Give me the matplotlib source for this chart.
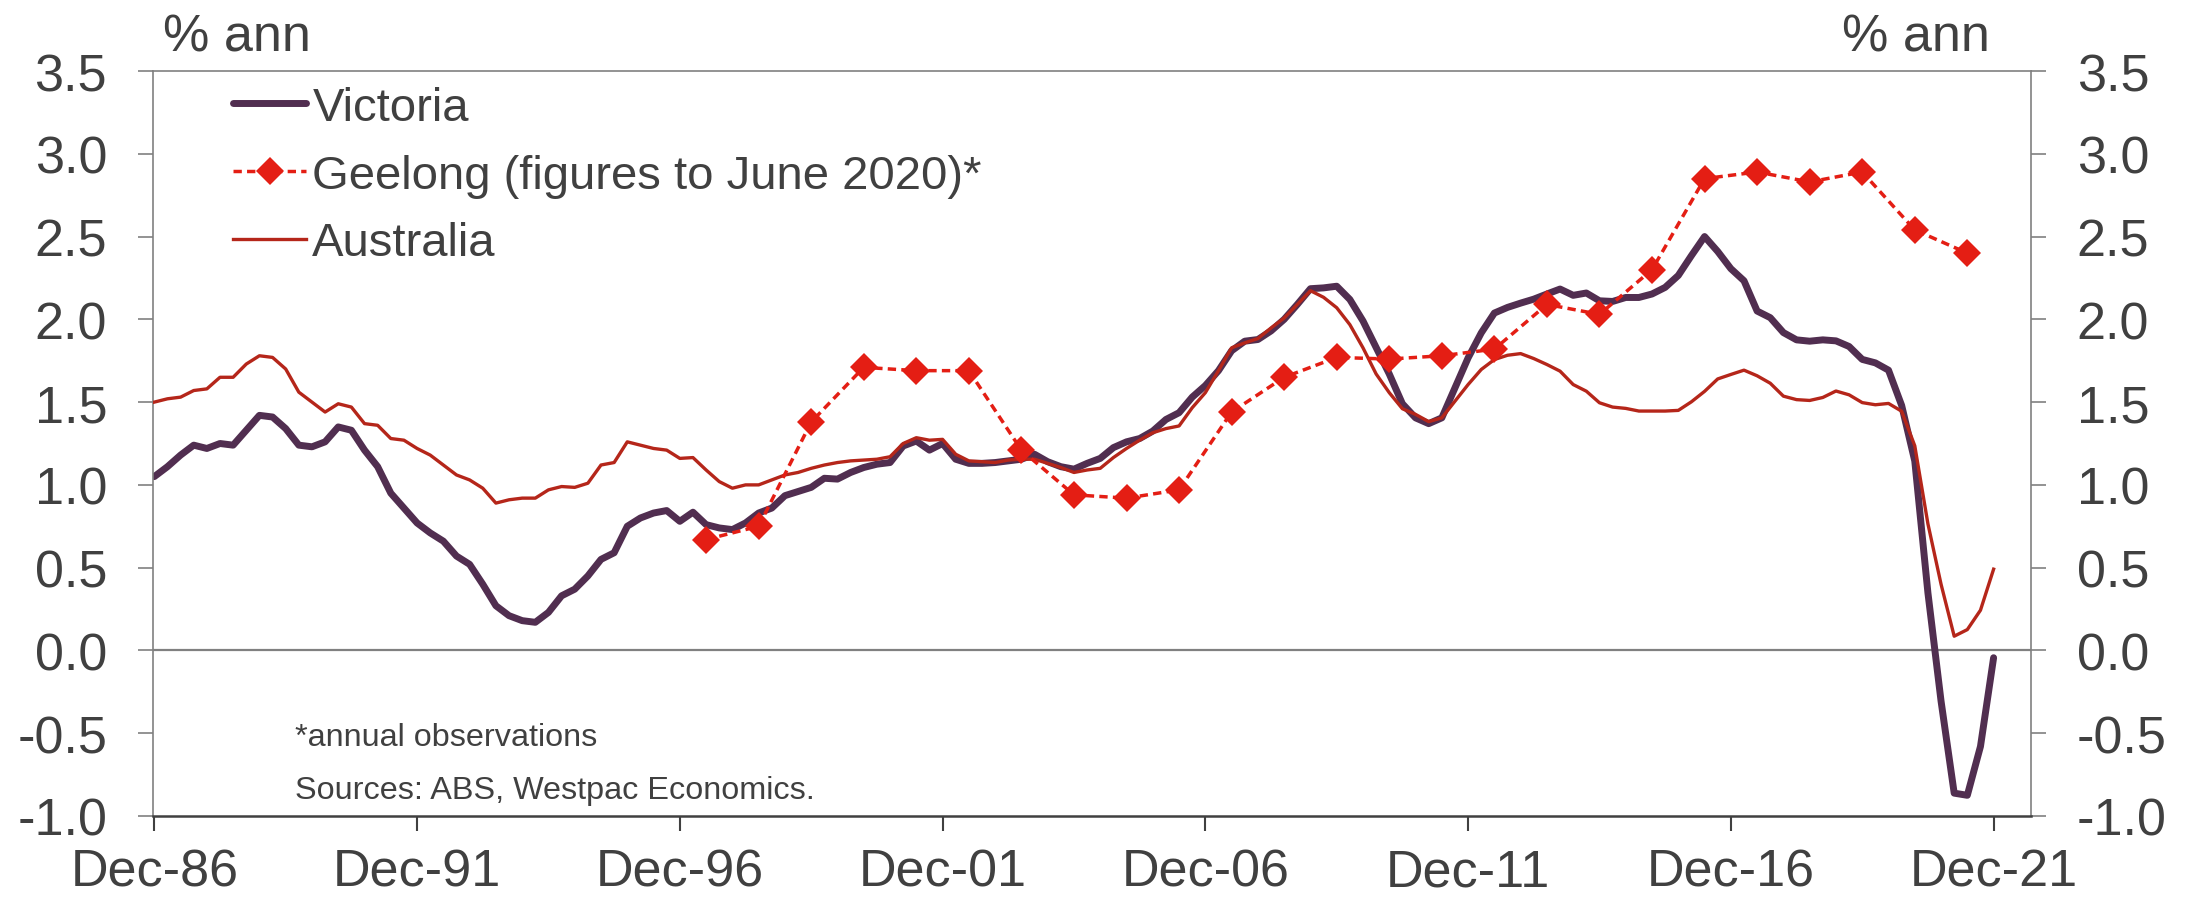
import numpy as np
import matplotlib
matplotlib.use('Agg')
import matplotlib.pyplot as plt

# quarterly population growth, % ann, Dec-86 .. Dec-21
victoria = [
    1.05, 1.11, 1.18, 1.24, 1.22, 1.25, 1.24, 1.33, 1.42, 1.41,
    1.34, 1.24, 1.23, 1.26, 1.35, 1.33, 1.21, 1.11, 0.95, 0.86,
    0.77, 0.71, 0.66, 0.57, 0.52, 0.40, 0.27, 0.21, 0.18, 0.17,
    0.23, 0.33, 0.37, 0.45, 0.55, 0.59, 0.75, 0.80, 0.83, 0.845,
    0.78, 0.835, 0.76, 0.74, 0.73, 0.77, 0.83, 0.86, 0.935, 0.96,
    0.985, 1.04, 1.035, 1.075, 1.105, 1.125, 1.135, 1.235, 1.265, 1.21,
    1.25, 1.155, 1.13, 1.13, 1.135, 1.145, 1.155, 1.185, 1.14, 1.11,
    1.095, 1.13, 1.16, 1.225, 1.26, 1.28, 1.325, 1.395, 1.436, 1.53,
    1.60, 1.69, 1.81, 1.868, 1.878, 1.93, 2.00, 2.09, 2.185, 2.19,
    2.20, 2.12, 1.99, 1.83, 1.67, 1.49, 1.405, 1.37, 1.405, 1.586,
    1.767, 1.918, 2.038, 2.072, 2.098, 2.122, 2.153, 2.183, 2.145, 2.159,
    2.112, 2.108, 2.132, 2.132, 2.153, 2.193, 2.265, 2.385, 2.50, 2.41,
    2.306, 2.233, 2.05, 2.01, 1.92, 1.876, 1.868, 1.876, 1.87, 1.836,
    1.758, 1.737, 1.693, 1.48, 1.144, 0.348, -0.306, -0.862, -0.875, -0.58,
    -0.044,
]

australia = [
    1.50, 1.52, 1.53, 1.57, 1.58, 1.65, 1.65, 1.73, 1.78, 1.77,
    1.70, 1.56, 1.50, 1.44, 1.49, 1.47, 1.37, 1.36, 1.28, 1.27,
    1.22, 1.18, 1.12, 1.06, 1.03, 0.98, 0.89, 0.91, 0.92, 0.92,
    0.97, 0.99, 0.985, 1.01, 1.12, 1.135, 1.26, 1.24, 1.22, 1.21,
    1.16, 1.165, 1.09, 1.02, 0.98, 1.00, 1.00, 1.03, 1.06, 1.075,
    1.10, 1.12, 1.135, 1.145, 1.15, 1.155, 1.17, 1.25, 1.285, 1.27,
    1.275, 1.185, 1.145, 1.14, 1.135, 1.15, 1.155, 1.155, 1.13, 1.105,
    1.075, 1.09, 1.10, 1.165, 1.22, 1.27, 1.315, 1.34, 1.356, 1.466,
    1.557, 1.69, 1.828, 1.858, 1.884, 1.948, 2.008, 2.09, 2.173, 2.133,
    2.07, 1.968, 1.828, 1.67, 1.557, 1.46, 1.426, 1.382, 1.405, 1.506,
    1.606, 1.697, 1.757, 1.783, 1.793, 1.763, 1.727, 1.687, 1.606, 1.566,
    1.496, 1.47, 1.462, 1.446, 1.446, 1.446, 1.45, 1.502, 1.565, 1.64,
    1.667, 1.693, 1.659, 1.614, 1.536, 1.515, 1.51, 1.528, 1.567, 1.544,
    1.497, 1.484, 1.492, 1.445, 1.236, 0.765, 0.40, 0.086, 0.126, 0.243,
    0.491,
]

# annual (June) observations
geelong_years = list(range(1997, 2022))
geelong = [
    0.67, 0.75, 1.38, 1.71, 1.69, 1.69, 1.21, 0.94, 0.92, 0.97,
    1.44, 1.65, 1.77, 1.76, 1.78, 1.82, 2.09, 2.03, 2.30, 2.85,
    2.89, 2.83, 2.89, 2.54, 2.40,
]

tick_labels = ['Dec-86', 'Dec-91', 'Dec-96', 'Dec-01', 'Dec-06',
               'Dec-11', 'Dec-16', 'Dec-21']

plt.rcParams['font.family'] = ['Liberation Sans', 'DejaVu Sans']
plt.rcParams['axes.unicode_minus'] = False

VIC = '#512E50'
AUS = '#B5261A'
GEE = '#E41E14'
TXT = '#404040'
GRID = '#808080'

x_q = np.arange(len(victoria))
# June quarter of each year, counted from Dec-86
x_g = np.array([(y - 1986) * 4 - 2 for y in geelong_years])

W, H = 2206, 903
fig = plt.figure(figsize=(W / 100, H / 100), dpi=100)
left, right, top, bottom = 153, 2031, 72, 817
ax = fig.add_axes([left / W, 1 - bottom / H, (right - left) / W, (bottom - top) / H])

ax.axhline(0, color=GRID, lw=1.6, zorder=1)
l_vic, = ax.plot(x_q, victoria, color=VIC, lw=5.0, solid_joinstyle='round',
                 solid_capstyle='round', zorder=2)
l_aus, = ax.plot(x_q, australia, color=AUS, lw=2.4, zorder=3)
l_gee, = ax.plot(x_g, geelong, color=GEE, lw=2.5, ls=(0, (2.4, 1.5)),
                 marker='D', markersize=14, markeredgewidth=0, zorder=4)

ax.set_xlim(-0.1, (right - 154) / 13.14)
ax.set_ylim(-1.0, 3.5)
ax.set_xticks(np.arange(0, 141, 20))
ax.set_xticklabels(tick_labels)
ax.set_yticks(np.arange(-1.0, 3.51, 0.5))
ax.set_yticklabels(['%.1f' % v for v in np.arange(-1.0, 3.51, 0.5)])

for side in ['left', 'right', 'top']:
    ax.spines[side].set_color(GRID)
    ax.spines[side].set_linewidth(1.2)
ax.spines['bottom'].set_color(TXT)
ax.spines['bottom'].set_linewidth(1.8)

ax.tick_params(axis='y', which='both', left=True, right=True,
               labelleft=True, labelright=True, direction='out',
               length=11, width=1.2, color=GRID, pad=22,
               labelsize=37.5, labelcolor=TXT)
ax.tick_params(axis='x', direction='out', length=11, width=1.5,
               color=TXT, pad=12, labelsize=37.5, labelcolor=TXT)

fig.text(163 / W, 1 - 51 / H, '% ann', fontsize=37.5, color=TXT,
         ha='left', va='baseline')
fig.text(1990 / W, 1 - 51 / H, '% ann', fontsize=37.5, color=TXT,
         ha='right', va='baseline')

ax.legend([l_vic, l_gee, l_aus],
          ['Victoria', 'Geelong (figures to June 2020)*', 'Australia'],
          loc='upper left', bbox_to_anchor=(233 / W, 1 - 87 / H),
          bbox_transform=fig.transFigure, frameon=False, fontsize=34,
          handlelength=1.55, handletextpad=0.13, labelspacing=0.5,
          borderpad=0, borderaxespad=0, labelcolor=TXT)

fig.text(295 / W, 1 - 738 / H, '*annual observations', fontsize=23.3,
         color=TXT, ha='left', va='center')
fig.text(295 / W, 1 - 791 / H, 'Sources: ABS, Westpac Economics.',
         fontsize=23.3, color=TXT, ha='left', va='center')

fig.savefig('out.png', dpi=100)
